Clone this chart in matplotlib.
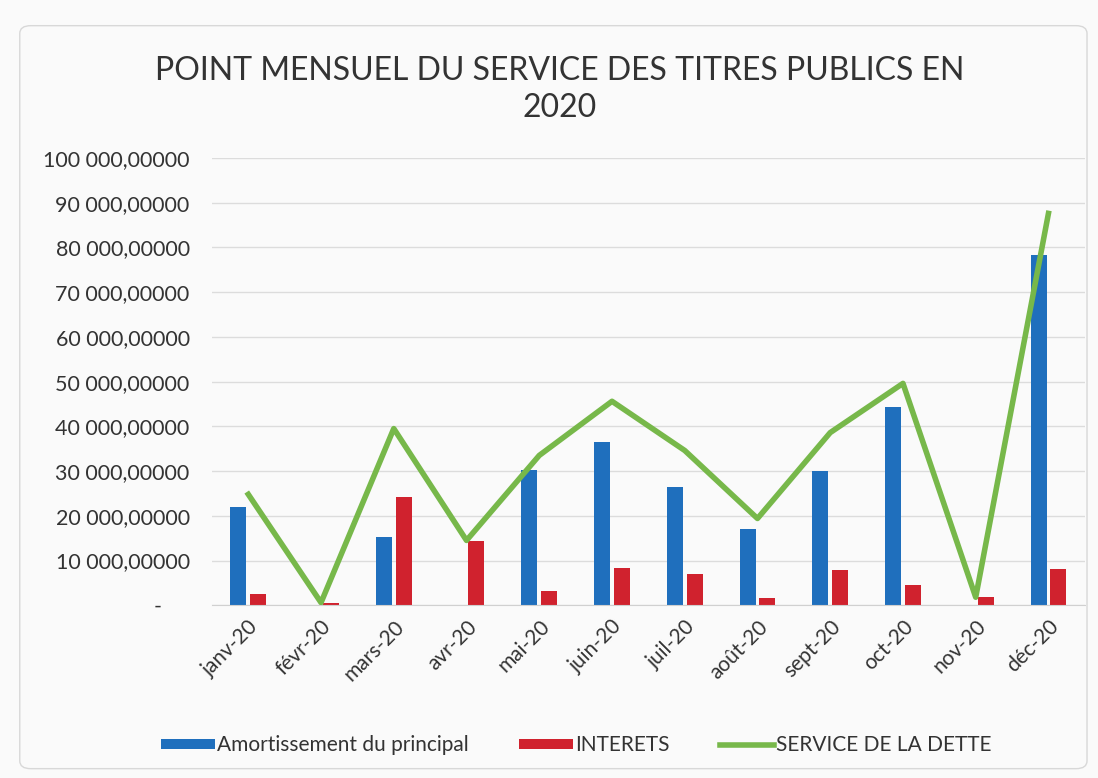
import matplotlib.pyplot as plt
from matplotlib.ticker import FuncFormatter, MultipleLocator
from matplotlib.patches import FancyBboxPatch
import numpy as np

# monthly debt service figures
mois = ['janv-20', 'févr-20', 'mars-20', 'avr-20', 'mai-20', 'juin-20',
        'juil-20', 'août-20', 'sept-20', 'oct-20', 'nov-20', 'déc-20']
amortissement = [22000, 0, 15200, 0, 30200, 36500,
                 26500, 17000, 30000, 44400, 0, 78300]
interets = [2500, 600, 24200, 14300, 3100, 8400,
            6900, 1600, 7900, 4500, 1800, 8100]
service = [24800, 600, 39500, 14500, 33500, 45600,
           34600, 19400, 38600, 49600, 1800, 87600]

plt.rcParams['font.family'] = ['Lato', 'DejaVu Sans']

fig = plt.figure(figsize=(10.98, 7.78), dpi=100)
fig.patch.set_facecolor('#fafafa')
# chart border like the excel chart area
fig.patches.append(FancyBboxPatch((0.018, 0.012), 0.972, 0.955, boxstyle='round,pad=0,rounding_size=0.01',
                                  transform=fig.transFigure, fill=False, edgecolor='#d8d8d8', lw=1))

ax = fig.add_axes([0.193, 0.222, 0.795, 0.575])
ax.set_facecolor('#fafafa')

x = np.arange(len(mois))
w = 0.22
b1 = ax.bar(x - 0.135, amortissement, w, color='#1f6fbd', label='Amortissement du principal', zorder=2)
b2 = ax.bar(x + 0.135, interets, w, color='#d0222e', label='INTERETS', zorder=2)
l1, = ax.plot(x, service, color='#77b84a', lw=4, label='SERVICE DE LA DETTE', zorder=3)

ax.set_xlim(-0.5, len(mois) - 0.5)
ax.set_ylim(0, 100000)
ax.yaxis.set_major_locator(MultipleLocator(10000))


def fmt(v, pos):
    if v == 0:
        return '-     '
    return f'{v:,.5f}'.replace(',', ' ').replace('.', ',')


ax.yaxis.set_major_formatter(FuncFormatter(fmt))
ax.grid(axis='y', color='#dcdcdc', lw=1, zorder=0)
for s in ax.spines.values():
    s.set_visible(False)
ax.spines['bottom'].set_visible(True)
ax.spines['bottom'].set_color('#d0d0d0')
ax.tick_params(length=0, labelsize=15, colors='#333333')
ax.tick_params(axis='y', labelsize=15.5, pad=16)
ax.tick_params(axis='x', pad=8)
ax.set_xticks(x)
ax.set_xticklabels(mois, rotation=45, ha='right', rotation_mode='anchor')

fig.text(0.51, 0.885, 'POINT MENSUEL DU SERVICE DES TITRES PUBLICS EN\n2020',
         ha='center', va='center', fontsize=23, color='#333333', linespacing=1.3)

fig.legend([b1, b2, l1], ['Amortissement du principal', 'INTERETS', 'SERVICE DE LA DETTE'],
           loc='center', bbox_to_anchor=(0.525, 0.042), ncol=3, frameon=False,
           fontsize=15, handlelength=2.6, handleheight=0.35, handletextpad=0.1,
           columnspacing=2.4, labelcolor='#333333')

fig.savefig('out.png', dpi=100, facecolor=fig.get_facecolor())
